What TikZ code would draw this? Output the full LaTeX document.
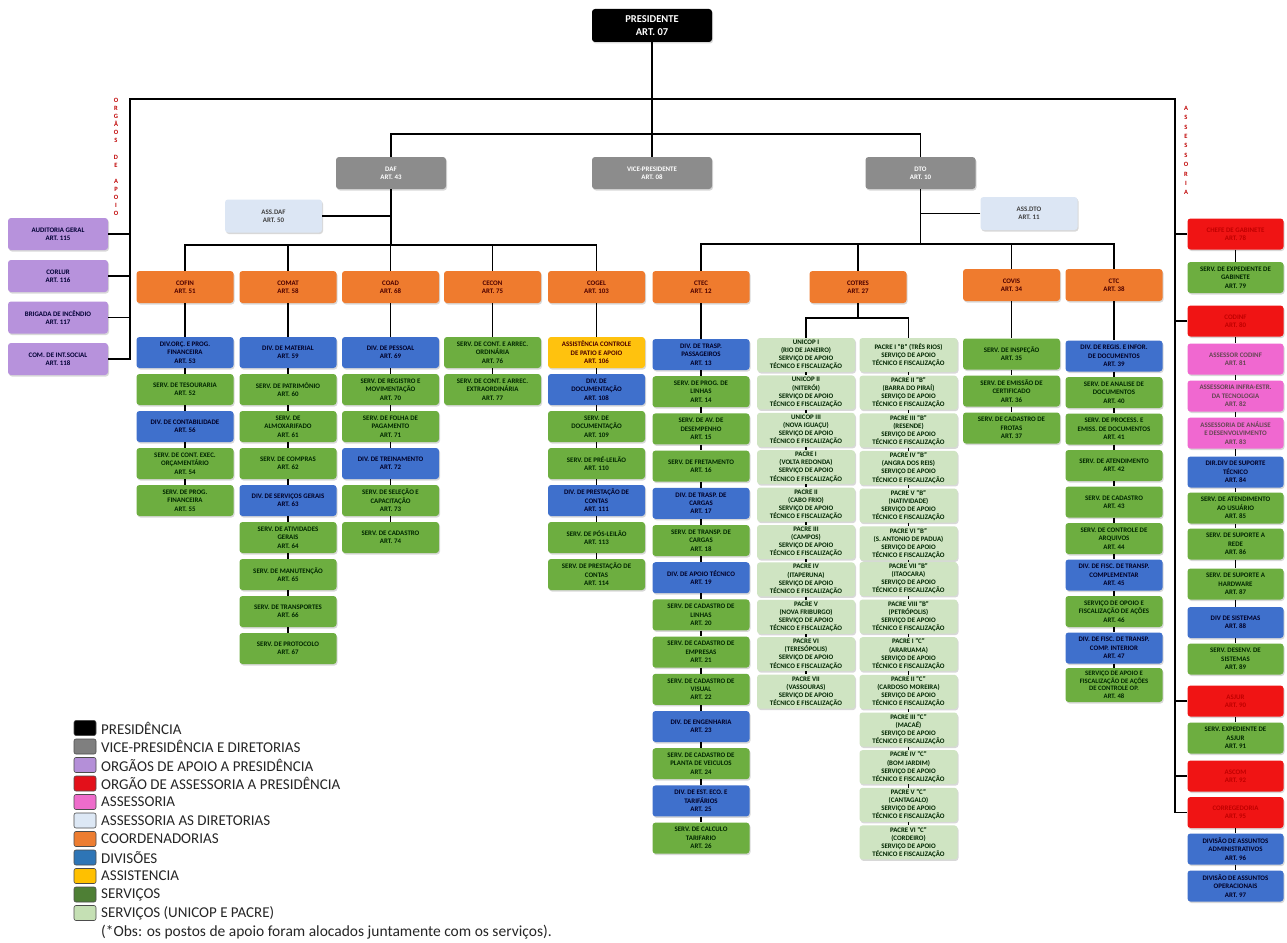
\documentclass[tikz,border=0pt]{standalone}
\usepackage{fontspec}
\setmainfont{Carlito}
\usetikzlibrary{shadows}
\definecolor{cgray}{HTML}{8C8C8C}
\definecolor{cpurp}{HTML}{B792DC}
\definecolor{cred}{HTML}{F01414}
\definecolor{cpink}{HTML}{F068D0}
\definecolor{clblue}{HTML}{DCE6F4}
\definecolor{corange}{HTML}{EF7B2E}
\definecolor{cblue}{HTML}{3F70CC}
\definecolor{cyellow}{HTML}{FFC20E}
\definecolor{cgreen}{HTML}{6DAE40}
\definecolor{clgreen}{HTML}{CFE4C2}
\definecolor{lgray}{HTML}{7F7F7F}
\definecolor{lpurp}{HTML}{B48FD8}
\definecolor{lred}{HTML}{E3101A}
\definecolor{lpink}{HTML}{EE6CCB}
\definecolor{llblue}{HTML}{DDE8F5}
\definecolor{lorange}{HTML}{ED7D31}
\definecolor{lblue}{HTML}{2E75B6}
\definecolor{lyellow}{HTML}{FFC000}
\definecolor{lgreen}{HTML}{4E7F35}
\definecolor{llgreen}{HTML}{C5E0B4}
\definecolor{vred}{HTML}{C00000}
\newcommand\sapoio{SERVIÇO DE APOIO\\TÉCNICO E FISCALIZAÇÃO}
\tikzset{
  base/.style={rounded corners=3pt, align=center, inner sep=0.5pt,
    minimum width=97pt, minimum height=31pt,
    font=\bfseries\fontsize{6.9}{8.4}\selectfont,
    drop shadow={shadow xshift=1pt, shadow yshift=-1.5pt, opacity=0.3}},
  pres/.style={base, fill=black, text=white, minimum width=120pt, minimum height=33pt,
    font=\bfseries\fontsize{10.5}{12.5}\selectfont},
  gry/.style={base, fill=cgray, text=white, minimum width=110pt, minimum height=32pt},
  lbl/.style={base, fill=clblue, text=black!75, minimum height=33pt},
  pur/.style={base, fill=cpurp, text=black!80!blue, minimum width=100pt, minimum height=32pt},
  org/.style={base, fill=corange, text=black!70!red, minimum height=32pt},
  blu/.style={base, fill=cblue, text=black!85!blue},
  grn/.style={base, fill=cgreen, text=black!85!green},
  yel/.style={base, fill=cyellow, text=black!70!red},
  lgr/.style={base, fill=clgreen, text=black!85!green, minimum width=98pt, minimum height=34pt,
    font=\bfseries\fontsize{6.9}{8.1}\selectfont},
  red/.style={base, fill=cred, text=vred, minimum width=96pt},
  pnk/.style={base, fill=cpink, text=black!70!magenta, minimum width=96pt},
  rgrn/.style={grn, minimum width=96pt},
  rblu/.style={blu, minimum width=96pt},
  conn/.style={line width=1.8pt},
  stub/.style={line width=1.5pt},
  vt/.style={align=center, text=vred, inner sep=0pt, font=\bfseries\fontsize{6.5}{8.1}\selectfont},
  sw/.style={draw=black!70, line width=0.6pt, rounded corners=2pt, minimum width=22pt, minimum height=15pt, inner sep=0pt},
  lg/.style={anchor=west, inner sep=0pt, font=\fontsize{15}{17}\selectfont, text=black!85}
}
\begin{document}
\begin{tikzpicture}[x=1pt,y=-1pt]
\useasboundingbox (0,0) rectangle (1287,942);
\fill[white] (0,0) rectangle (1287,942);

% ---- top level
\node[pres] (pres) at (652,25.5) {PRESIDENTE\\ART. 07};
\node[gry] (daf) at (391,173) {DAF\\ART. 43};
\node[gry, minimum width=120pt] (vice) at (652,173) {VICE-PRESIDENTE\\ART. 08};
\node[gry] (dto) at (920.5,173) {DTO\\ART. 10};
\node[lbl] (assdaf) at (273.5,216) {ASS.DAF\\ART. 50};
\node[lbl] (assdto) at (1029,213.5) {ASS.DTO\\ART. 11};

% ---- side labels
\node[vt] (orgaos) at (116,157) {O\\R\\G\\Ã\\O\\S\\[8.1pt]D\\E\\[8.1pt]A\\P\\O\\I\\O};
\node[vt, font=\bfseries\fontsize{6.5}{9.4}\selectfont] (assess) at (1186,150.5) {A\\S\\S\\E\\S\\S\\O\\R\\I\\A};

% ---- purple (orgaos de apoio)
\node[pur] (aud) at (58,234) {AUDITORIA GERAL\\ART. 115};
\node[pur] (corlur) at (58,276) {CORLUR\\ART. 116};
\node[pur] (brig) at (58,317.5) {BRIGADA DE INCÊNDIO\\ART. 117};
\node[pur] (comint) at (58,359) {COM. DE INT.SOCIAL\\ART. 118};

% ---- coordenadorias
\node[org] (cofin) at (185,287) {COFIN\\ART. 51};
\node[org] (comat) at (288,287) {COMAT\\ART. 58};
\node[org] (coad) at (390.5,287) {COAD\\ART. 68};
\node[org] (cecon) at (492.5,287) {CECON\\ART. 75};
\node[org] (cogel) at (596.5,287) {COGEL\\ART. 103};
\node[org] (ctec) at (701,287) {CTEC\\ART. 12};
\node[org] (cotres) at (858,287) {COTRES\\ART. 27};
\node[org] (covis) at (1011.5,285) {COVIS\\ART. 34};
\node[org] (ctc) at (1114,285) {CTC\\ART. 38};

% ---- COFIN
\node[blu] (f1) at (185,352.5) {DIV.ORÇ. E PROG.\\FINANCEIRA\\ART. 53};
\node[grn] (f2) at (185,389.5) {SERV. DE TESOURARIA\\ART. 52};
\node[blu] (f3) at (185,426.5) {DIV. DE CONTABILIDADE\\ART. 56};
\node[grn] (f4) at (185,463.5) {SERV. DE CONT. EXEC.\\ORÇAMENTÁRIO\\ART. 54};
\node[grn] (f5) at (185,500.5) {SERV. DE PROG.\\FINANCEIRA\\ART. 55};

% ---- COMAT
\node[blu] (m1) at (288,352.5) {DIV. DE MATERIAL\\ART. 59};
\node[grn] (m2) at (288,389.5) {SERV. DE PATRIMÔNIO\\ART. 60};
\node[grn] (m3) at (288,426.5) {SERV. DE\\ALMOXARIFADO\\ART. 61};
\node[grn] (m4) at (288,463.5) {SERV. DE COMPRAS\\ART. 62};
\node[blu] (m5) at (288,500.5) {DIV. DE SERVIÇOS GERAIS\\ART. 63};
\node[grn] (m6) at (288,537.5) {SERV. DE ATIVIDADES\\GERAIS\\ART. 64};
\node[grn] (m7) at (288,574.5) {SERV. DE MANUTENÇÃO\\ART. 65};
\node[grn] (m8) at (288,611.5) {SERV. DE TRANSPORTES\\ART. 66};
\node[grn] (m9) at (288,648.5) {SERV. DE PROTOCOLO\\ART. 67};

% ---- COAD
\node[blu] (a1) at (390.5,352.5) {DIV. DE PESSOAL\\ART. 69};
\node[grn] (a2) at (390.5,389.5) {SERV. DE REGISTRO E\\MOVIMENTAÇÃO\\ART. 70};
\node[grn] (a3) at (390.5,426.5) {SERV. DE FOLHA DE\\PAGAMENTO\\ART. 71};
\node[blu] (a4) at (390.5,463.5) {DIV. DE TREINAMENTO\\ART. 72};
\node[grn] (a5) at (390.5,500.5) {SERV. DE SELEÇÃO E\\CAPACITAÇÃO\\ART. 73};
\node[grn] (a6) at (390.5,537.5) {SERV. DE CADASTRO\\ART. 74};

% ---- CECON
\node[grn] (e1) at (492.5,352.5) {SERV. DE CONT. E ARREC.\\ORDINÁRIA\\ART. 76};
\node[grn] (e2) at (492.5,389.5) {SERV. DE CONT. E ARREC.\\EXTRAORDINÁRIA\\ART. 77};

% ---- COGEL
\node[yel] (g1) at (596.5,352.5) {ASSISTÊNCIA CONTROLE\\DE PATIO E APOIO\\ART. 106};
\node[blu] (g2) at (596.5,389.5) {DIV. DE\\DOCUMENTAÇÃO\\ART. 108};
\node[grn] (g3) at (596.5,426.5) {SERV. DE\\DOCUMENTAÇÃO\\ART. 109};
\node[grn] (g4) at (596.5,463.5) {SERV. DE PRÉ-LEILÃO\\ART. 110};
\node[blu] (g5) at (596.5,500.5) {DIV. DE PRESTAÇÃO DE\\CONTAS\\ART. 111};
\node[grn] (g6) at (596.5,537.5) {SERV. DE PÓS-LEILÃO\\ART. 113};
\node[grn] (g7) at (596.5,574.5) {SERV. DE PRESTAÇÃO DE\\CONTAS\\ART. 114};

% ---- CTEC
\node[blu] (t1) at (701,354.5) {DIV. DE TRASP.\\PASSAGEIROS\\ART. 13};
\node[grn] (t2) at (701,391.7) {SERV. DE PROG. DE\\LINHAS\\ART. 14};
\node[grn] (t3) at (701,428.9) {SERV. DE AV. DE\\DESEMPENHO\\ART. 15};
\node[grn] (t4) at (701,466.1) {SERV. DE FRETAMENTO\\ART. 16};
\node[blu] (t5) at (701,503.3) {DIV. DE TRASP. DE\\CARGAS\\ART. 17};
\node[grn] (t6) at (701,540.5) {SERV. DE TRANSP. DE\\CARGAS\\ART. 18};
\node[blu] (t7) at (701,577.7) {DIV. DE APOIO TÉCNICO\\ART. 19};
\node[grn] (t8) at (701,614.9) {SERV. DE CADASTRO DE\\LINHAS\\ART. 20};
\node[grn] (t9) at (701,652.1) {SERV. DE CADASTRO DE\\EMPRESAS\\ART. 21};
\node[grn] (t10) at (701,689.3) {SERV. DE CADASTRO DE\\VISUAL\\ART. 22};
\node[blu] (t11) at (701,726.5) {DIV. DE ENGENHARIA\\ART. 23};
\node[grn] (t12) at (701,763.7) {SERV. DE CADASTRO DE\\PLANTA DE VEICULOS\\ART. 24};
\node[blu] (t13) at (701,800.9) {DIV. DE EST. ECO. E\\TARIFÁRIOS\\ART. 25};
\node[grn] (t14) at (701,838.1) {SERV. DE CALCULO\\TARIFARIO\\ART. 26};

% ---- COTRES column A
\node[lgr] (ua1) at (806,355) {UNICOP I\\(RIO DE JANEIRO)\\\sapoio};
\node[lgr] (ua2) at (806,392.4) {UNICOP II\\(NITERÓI)\\\sapoio};
\node[lgr] (ua3) at (806,429.8) {UNICOP III\\(NOVA IGUAÇU)\\\sapoio};
\node[lgr] (ua4) at (806,467.2) {PACRE I\\(VOLTA REDONDA)\\\sapoio};
\node[lgr] (ua5) at (806,504.6) {PACRE II\\(CABO FRIO)\\\sapoio};
\node[lgr] (ua6) at (806,542) {PACRE III\\(CAMPOS)\\\sapoio};
\node[lgr] (ua7) at (806,579.4) {PACRE IV\\(ITAPERUNA)\\\sapoio};
\node[lgr] (ua8) at (806,616.8) {PACRE V\\(NOVA FRIBURGO)\\\sapoio};
\node[lgr] (ua9) at (806,654.2) {PACRE VI\\(TERESÓPOLIS)\\\sapoio};
\node[lgr] (ua10) at (806,691.6) {PACRE VII\\(VASSOURAS)\\\sapoio};

% ---- COTRES column B
\node[lgr] (ub1) at (908.5,355) {PACRE I "B" (TRÊS RIOS)\\\sapoio};
\node[lgr] (ub2) at (908.5,392.65) {PACRE II "B"\\(BARRA DO PIRAÍ)\\\sapoio};
\node[lgr] (ub3) at (908.5,430.3) {PACRE III "B"\\(RESENDE)\\\sapoio};
\node[lgr] (ub4) at (908.5,467.95) {PACRE IV "B"\\(ANGRA DOS REIS)\\\sapoio};
\node[lgr] (ub5) at (908.5,505.6) {PACRE V "B"\\(NATIVIDADE)\\\sapoio};
\node[lgr] (ub6) at (908.5,543.25) {PACRE VI "B"\\(S. ANTONIO DE PADUA)\\\sapoio};
\node[lgr] (ub7) at (908.5,578.9) {PACRE VII "B"\\(ITAOCARA)\\\sapoio};
\node[lgr] (ub8) at (908.5,616.55) {PACRE VIII "B"\\(PETRÓPOLIS)\\\sapoio};
\node[lgr] (ub9) at (908.5,654.2) {PACRE I "C"\\(ARARUAMA)\\\sapoio};
\node[lgr] (ub10) at (908.5,691.85) {PACRE II "C"\\(CARDOSO MOREIRA)\\\sapoio};
\node[lgr] (ub11) at (908.5,729.5) {PACRE III "C"\\(MACAÉ)\\\sapoio};
\node[lgr] (ub12) at (908.5,767.15) {PACRE IV "C"\\(BOM JARDIM)\\\sapoio};
\node[lgr] (ub13) at (908.5,804.8) {PACRE V "C"\\(CANTAGALO)\\\sapoio};
\node[lgr] (ub14) at (908.5,842.45) {PACRE VI "C"\\(CORDEIRO)\\\sapoio};

% ---- COVIS
\node[grn] (v1) at (1011.5,354) {SERV. DE INSPEÇÃO\\ART. 35};
\node[grn] (v2) at (1011.5,391) {SERV. DE EMISSÃO DE\\CERTIFICADO\\ART. 36};
\node[grn] (v3) at (1011.5,428) {SERV. DE CADASTRO DE\\FROTAS\\ART. 37};

% ---- CTC
\node[blu] (c1) at (1114,356) {DIV. DE REGIS. E INFOR.\\DE DOCUMENTOS\\ART. 39};
\node[grn] (c2) at (1114,392.5) {SERV. DE ANALISE DE\\DOCUMENTOS\\ART. 40};
\node[grn] (c3) at (1114,429) {SERV. DE PROCESS. E\\EMISS. DE DOCUMENTOS\\ART. 41};
\node[grn] (c4) at (1114,465.5) {SERV. DE ATENDIMENTO\\ART. 42};
\node[grn] (c5) at (1114,502) {SERV. DE CADASTRO\\ART. 43};
\node[grn] (c6) at (1114,538.5) {SERV. DE CONTROLE DE\\ARQUIVOS\\ART. 44};
\node[blu] (c7) at (1114,575) {DIV. DE FISC. DE TRANSP.\\COMPLEMENTAR\\ART. 45};
\node[grn] (c8) at (1114,611.5) {SERVIÇO DE OPOIO E\\FISCALIZAÇÃO DE AÇÕES\\ART. 46};
\node[blu] (c9) at (1114,648) {DIV. DE FISC. DE TRANSP.\\COMP. INTERIOR\\ART. 47};
\node[grn, minimum height=34pt, font=\bfseries\fontsize{6.7}{7.6}\selectfont] (c10) at (1114,685) {SERVIÇO DE APOIO E\\FISCALIZAÇÃO DE AÇÕES\\DE CONTROLE OP.\\ART. 48};

% ---- right column (assessoria)
\node[red] (r1) at (1235.5,234) {CHEFE DE GABINETE\\ART. 78};
\node[rgrn] (r2) at (1235.5,277.5) {SERV. DE EXPEDIENTE DE\\GABINETE\\ART. 79};
\node[red] (r3) at (1235.5,321) {CODINF\\ART. 80};
\node[pnk] (r4) at (1235.5,359) {ASSESSOR CODINF\\ART. 81};
\node[pnk] (r5) at (1235.5,396) {ASSESSORIA INFRA-ESTR.\\DA TECNOLOGIA\\ART. 82};
\node[pnk] (r6) at (1235.5,433) {ASSESSORIA DE ANÁLISE\\E DESENVOLVIMENTO\\ART. 83};
\node[rblu] (r7) at (1235.5,472) {DIR.DIV DE SUPORTE\\TÉCNICO\\ART. 84};
\node[rgrn] (r8) at (1235.5,508) {SERV. DE ATENDIMENTO\\AO USUÁRIO\\ART. 85};
\node[rgrn] (r9) at (1235.5,544) {SERV. DE SUPORTE A\\REDE\\ART. 86};
\node[rgrn] (r10) at (1235.5,584) {SERV. DE SUPORTE A\\HARDWARE\\ART. 87};
\node[rblu] (r11) at (1235.5,622.5) {DIV DE SISTEMAS\\ART. 88};
\node[rgrn] (r12) at (1235.5,659) {SERV. DESENV. DE\\SISTEMAS\\ART. 89};
\node[red] (r13) at (1235.5,701) {ASJUR\\ART. 90};
\node[rgrn] (r14) at (1235.5,738) {SERV. EXPEDIENTE DE\\ASJUR\\ART. 91};
\node[red] (r15) at (1235.5,776) {ASCOM\\ART. 92};
\node[red] (r16) at (1235.5,812.5) {CORREGEDORIA\\ART. 95};
\node[rblu] (r17) at (1235.5,849) {DIVISÃO DE ASSUNTOS\\ADMINISTRATIVOS\\ART. 96};
\node[rblu] (r18) at (1235.5,886) {DIVISÃO DE ASSUNTOS\\OPERACIONAIS\\ART. 97};

% ---- connectors: top
\coordinate (topL) at (130,99);
\coordinate (topR) at (1175,99);
\coordinate (bus2) at (652,134);
\coordinate (dafbus) at (391,245);
\coordinate (dtobus) at (920.5,244);
\coordinate (cotbus) at (858,318);
\draw[conn] (pres) -- (vice);
\draw[conn] (comint.east) -| (topL) -- (topR) |- (r16.west);
\foreach \n in {aud,corlur,brig} \draw[conn] (\n.east) -- (\n.east -| topL);
\foreach \n in {r1,r3,r13,r15} \draw[conn] (\n.west) -- (\n.west -| topR);
\draw[conn] (daf.north) |- (bus2) -| (dto.north);
\draw[conn] (daf.south) -- (dafbus);
\draw[conn] (assdaf.east) -- (assdaf.east -| daf.south);
\draw[conn] (cofin.north) |- (dafbus) -| (cogel.north);
\foreach \n in {comat,coad,cecon} \draw[conn] (\n.north) -- (\n.north |- dafbus);
\draw[conn] (dto.south) -- (dtobus);
\draw[conn] (assdto.west) -- (assdto.west -| dto.south);
\draw[conn] (ctec.north) |- (dtobus) -| (ctc.north);
\foreach \n in {cotres,covis} \draw[conn] (\n.north) -- (\n.north |- dtobus);
% coordinators to first child
\foreach \a/\b in {cofin/f1,comat/m1,coad/a1,cecon/e1,cogel/g1,ctec/t1,covis/v1,ctc/c1}
  \draw[conn] (\a.south) -- (\b.north);
\draw[conn] (cotres.south) -- (cotbus);
\draw[conn] (ua1.north) |- (cotbus) -| (ub1.north);
% stubs
\foreach \a/\b in {f1/f2,f2/f3,f3/f4,f4/f5,
  m1/m2,m2/m3,m3/m4,m4/m5,m5/m6,m6/m7,m7/m8,m8/m9,
  a1/a2,a2/a3,a3/a4,a4/a5,a5/a6, e1/e2,
  g1/g2,g2/g3,g3/g4,g4/g5,g5/g6,g6/g7,
  t1/t2,t2/t3,t3/t4,t4/t5,t5/t6,t6/t7,t7/t8,t8/t9,t9/t10,t10/t11,t11/t12,t12/t13,t13/t14,
  ua1/ua2,ua2/ua3,ua3/ua4,ua4/ua5,ua5/ua6,ua6/ua7,ua7/ua8,ua8/ua9,ua9/ua10,
  ub1/ub2,ub2/ub3,ub3/ub4,ub4/ub5,ub5/ub6,ub6/ub7,ub7/ub8,ub8/ub9,ub9/ub10,ub10/ub11,ub11/ub12,ub12/ub13,ub13/ub14,
  v1/v2,v2/v3,
  c1/c2,c2/c3,c3/c4,c4/c5,c5/c6,c6/c7,c7/c8,c8/c9,c9/c10,
  r1/r2,r3/r4,r4/r5,r5/r6,r6/r7,r7/r8,r8/r9,r9/r10,r10/r11,r11/r12,r13/r14,r16/r17,r17/r18}
  \draw[stub] (\a.south) -- (\b.north);

% ---- legend
\node[sw, fill=black] (sw1) at (85,728) {};
\node[sw, fill=lgray] (sw2) at (85,746.5) {};
\node[sw, fill=lpurp] (sw3) at (85,765) {};
\node[sw, fill=lred] (sw4) at (85,783.5) {};
\node[sw, fill=lpink] (sw5) at (85,802) {};
\node[sw, fill=llblue] (sw6) at (85,820.5) {};
\node[sw, fill=lorange] (sw7) at (85,839) {};
\node[sw, fill=lblue] (sw8) at (85,857.5) {};
\node[sw, fill=lyellow] (sw9) at (85,876) {};
\node[sw, fill=lgreen] (sw10) at (85,894.5) {};
\node[sw, fill=llgreen] (sw11) at (85,913) {};
\node[lg] (lg1) at (101,728) {PRESIDÊNCIA};
\node[lg] (lg2) at (101,746.5) {VICE-PRESIDÊNCIA E DIRETORIAS};
\node[lg] (lg3) at (101,765) {ORGÃOS DE APOIO A PRESIDÊNCIA};
\node[lg] (lg4) at (101,783.5) {ORGÃO DE ASSESSORIA A PRESIDÊNCIA};
\node[lg] (lg5) at (101,802) {ASSESSORIA};
\node[lg] (lg6) at (101,820.5) {ASSESSORIA AS DIRETORIAS};
\node[lg] (lg7) at (101,839) {COORDENADORIAS};
\node[lg] (lg8) at (101,857.5) {DIVISÕES};
\node[lg] (lg9) at (101,876) {ASSISTENCIA};
\node[lg] (lg10) at (101,894.5) {SERVIÇOS};
\node[lg] (lg11) at (101,913) {SERVIÇOS (UNICOP E PACRE)};
\node[lg, font=\fontsize{15.5}{17}\selectfont] (obs) at (101,932) {(*Obs: os postos de apoio foram alocados juntamente com os serviços).};
\end{tikzpicture}
\end{document}
